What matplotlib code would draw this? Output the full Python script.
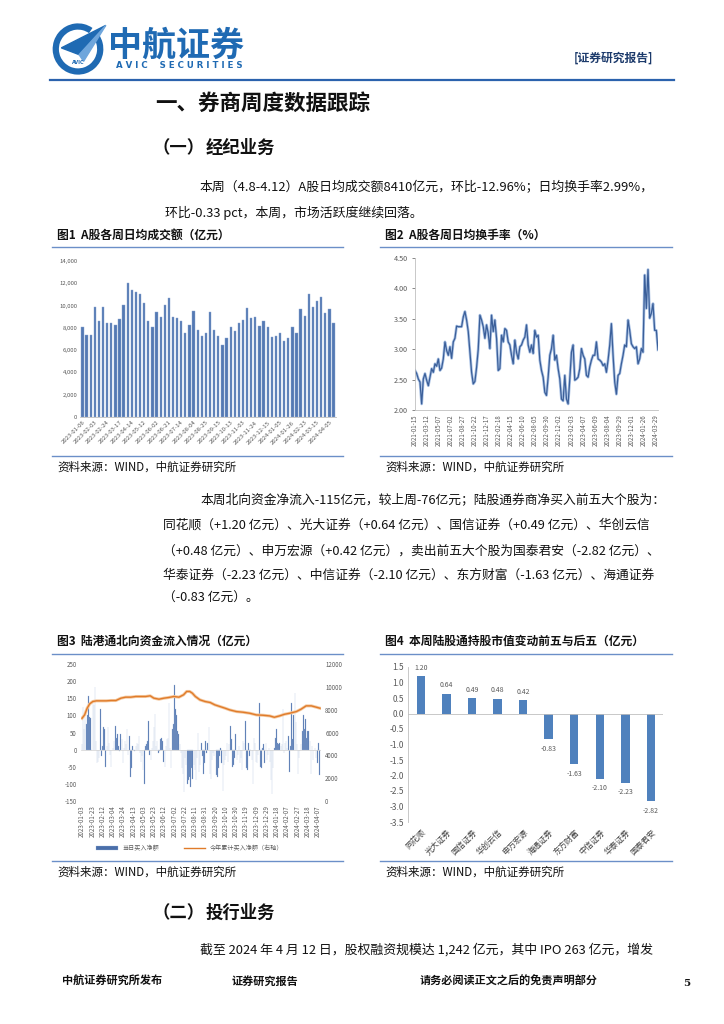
import numpy as np
import matplotlib
matplotlib.use("Agg")
import matplotlib.pyplot as plt
from matplotlib.patches import Arc, Polygon

plt.rcParams['font.family'] = ['Noto Sans CJK SC', 'DejaVu Sans']
plt.rcParams['axes.unicode_minus'] = False

W, H = 724, 1024

# ---------------- data ----------------
# 图1 A股各周日均成交额（亿元）
turnover_amt = [8100, 7400, 7400, 9850, 8600, 9850, 8400, 8400, 8300, 8800,
                10050, 12000, 11400, 11200, 11000, 10200, 8600, 8050, 9400, 9000,
                10050, 10700, 9000, 8850, 8600, 7550, 8250, 9550, 7800, 7250,
                7500, 9400, 7800, 7250, 6500, 7050, 8050, 7700, 8400, 8700,
                9800, 8850, 9000, 8150, 8650, 8050, 7200, 7250, 7500, 6850,
                7050, 8050, 7500, 9700, 9050, 11000, 9900, 10400, 10800, 9350,
                9650, 8410]
amt_labels = ['2023-01-06', '2023-02-03', '2023-02-24', '2023-03-17', '2023-04-14',
              '2023-05-12', '2023-06-02', '2023-06-21', '2023-07-14', '2023-08-04',
              '2023-08-25', '2023-09-15', '2023-10-13', '2023-11-03', '2023-11-24',
              '2023-12-15', '2024-01-05', '2024-01-26', '2024-02-23', '2024-03-15',
              '2024-04-05']

# 图2 A股各周日均换手率（%）
turnover_rate = [2.65, 2.60, 2.51, 2.46, 2.10, 2.51, 2.60, 2.49, 2.40, 2.54,
                 2.68, 2.62, 2.76, 2.72, 2.84, 2.65, 2.69, 2.84, 3.12, 2.98,
                 2.90, 3.04, 2.85, 3.12, 3.18, 3.38, 3.37, 3.37, 3.37, 3.53,
                 3.62, 3.48, 3.29, 2.95, 2.62, 2.43, 2.47, 2.70, 3.00, 3.56,
                 3.48, 3.37, 3.18, 3.40, 3.26, 3.01, 3.56, 3.29, 3.48, 3.18,
                 2.65, 2.68, 3.23, 3.12, 3.34, 3.31, 3.12, 3.07, 2.90, 2.76,
                 3.15, 2.95, 2.84, 3.04, 3.07, 3.15, 3.20, 3.40, 3.07, 2.95,
                 3.07, 2.93, 3.31, 3.20, 3.23, 2.82, 2.65, 2.54, 2.29, 2.24,
                 2.54, 2.90, 3.01, 3.23, 2.82, 2.90, 2.68, 2.51, 2.18, 2.15,
                 2.57, 2.18, 2.10, 2.51, 2.95, 3.07, 2.49, 2.51, 2.54, 2.68,
                 3.01, 2.90, 2.84, 2.57, 2.54, 2.71, 2.82, 2.90, 2.90, 3.12,
                 2.84, 2.82, 2.79, 2.73, 2.76, 2.62, 2.82, 3.07, 3.42, 2.90,
                 2.46, 2.26, 2.57, 2.60, 2.76, 2.90, 3.07, 3.04, 3.48, 3.31,
                 3.09, 3.04, 3.01, 3.04, 2.76, 2.84, 3.01, 2.95, 4.22, 3.67,
                 4.31, 3.51, 3.59, 3.75, 3.31, 3.31, 2.99]
rate_labels = ['2021-01-15', '2021-03-12', '2021-05-07', '2021-07-02', '2021-08-27',
               '2021-10-22', '2021-12-17', '2022-02-18', '2022-04-15', '2022-06-10',
               '2022-08-05', '2022-09-30', '2022-12-02', '2023-02-03', '2023-04-07',
               '2023-06-09', '2023-08-04', '2023-09-29', '2023-12-01', '2024-01-26',
               '2024-03-29']

# 图3 陆港通北向资金流入情况（亿元）
daily_net = [15, 125, 60, 95, 75, 100, 158, 95, 92, 0, 140, 130, 183, 25, -40,
             -35, -25, 120, -20, 10, 65, 60, -50, 10, 65, 20, -15, -50, 0, 5,
             25, 70, 35, 45, 10, -5, 45, 30, -40, 5, 25, 15, 60, -15, 40,
             -80, -55, 10, 0, -5, 10, 20, 15, 40, -10, -35, -20, -60, -100, 10,
             15, 25, 85, -15, -30, 5, 25, 65, 105, 10, 25, -10, -5, 30, 35,
             25, -35, -50, 10, 30, 35, 135, 5, -55, 60, 75, 188, 120, 100, 55,
             45, 15, -10, -55, -70, -125, -25, -45, -100, -90, -80, -110, -55, -85, -45,
             -60, -90, -25, 50, -65, -45, 20, -20, -70, -40, 25, -10, 20, 65, -70,
             -85, -30, -10, -20, 0, -75, -80, -55, -20, 5, -40, -120, -45, -30, -20,
             20, -35, 15, 70, 30, -50, -45, -25, 45, -30, -15, 10, -40, -25, -60,
             25, 20, 85, -55, -60, 20, -20, 0, -30, -100, 35, 20, -35, -40, -15,
             135, -50, -55, 5, 15, -40, 20, -30, -15, 5, -35, -90, -130, -55, 5,
             35, 60, 20, 15, 20, 10, 15, 120, -10, 20, 25, 5, 40, -65, 10,
             135, 30, 100, 165, 80, 15, -70, -25, -5, 15, 55, 100, 60, 90, 35,
             55, 55, 25, -70, 10, -30, -5, 5, -25, -40, 20, -75]
cum_day = [0, 5, 10, 15, 21, 28, 37, 47, 57, 66, 76, 85, 95, 105, 114, 124, 133,
           140, 150, 160, 169, 179, 189, 198, 204, 210, 215, 221, 230, 240, 250,
           259, 269, 279, 288, 301, 314, 327, 340, 353, 366, 375, 385, 395, 405,
           418, 427, 437, 447, 457, 464]
cum_net = [7247, 7540, 8127, 8509, 8714, 8773, 8773, 8773, 8802, 8802, 9008,
           9095, 9095, 9154, 9154, 9154, 9213, 9008, 8919, 9008, 9066, 9154,
           9095, 9301, 9594, 9594, 9447, 9154, 8860, 8714, 8626, 8421, 8274,
           8127, 7980, 7834, 7775, 7687, 7540, 7511, 7452, 7335, 7452, 7599,
           7687, 7834, 8039, 8333, 8333, 8215, 8127]
flow_labels = ['2023-01-03', '2023-01-23', '2023-02-12', '2023-03-04', '2023-03-24',
               '2023-04-13', '2023-05-03', '2023-05-23', '2023-06-12', '2023-07-02',
               '2023-07-22', '2023-08-11', '2023-08-31', '2023-09-20', '2023-10-10',
               '2023-10-30', '2023-11-19', '2023-12-09', '2023-12-29', '2024-01-18',
               '2024-02-07', '2024-02-27', '2024-03-18', '2024-04-07']

# 图4 本周陆股通持股市值变动前五与后五（亿元）
stocks = ['同花顺', '光大证券', '国信证券', '华创云信', '申万宏源',
          '海通证券', '东方财富', '中信证券', '华泰证券', '国泰君安']
stock_chg = [1.20, 0.64, 0.49, 0.48, 0.42, -0.83, -1.63, -2.10, -2.23, -2.82]

# ---------------- page ----------------
fig = plt.figure(figsize=(W / 100, H / 100), dpi=100)
fig.patch.set_facecolor('white')


def fx(x):
    return x / W


def fy(y):
    return 1 - y / H


def text(x, y, s, size, **kw):
    kw.setdefault('va', 'center')
    kw.setdefault('color', '#111111')
    fig.text(fx(x), fy(y), s, fontsize=size, **kw)


def hline(x0, x1, y, color, lw):
    fig.add_artist(plt.Line2D([fx(x0), fx(x1)], [fy(y), fy(y)], color=color, lw=lw))


def axes_px(x0, y0, x1, y1):
    return fig.add_axes([fx(x0), fy(y1), (x1 - x0) / W, (y1 - y0) / H])


# logo
logo = axes_px(48, 22, 108, 76)
logo.set_xlim(-1.35, 1.35)
logo.set_ylim(-1.2, 1.2)
logo.axis('off')
logo.add_patch(Arc((0, 0), 2.0, 2.0, theta1=55, theta2=395, lw=4.5, color='#1f6ab3'))
logo.add_patch(Polygon([[-0.75, 0.05], [1.25, 1.05], [0.05, -0.25]], color='#1f6ab3'))
logo.add_patch(Polygon([[0.05, -0.25], [1.25, 1.05], [0.25, -0.55]], color='#6fa6dc'))
logo.text(0, -0.62, 'AVIC', fontsize=3.5, ha='center', va='center', color='#1f6ab3',
          family='DejaVu Sans', weight='bold')

text(108, 45, '中航证券', 24.5, weight='bold', color='#1f6ab3')
text(116, 66, 'A V I C    S E C U R I T I E S', 6.2, weight='bold', color='#1f6ab3',
     family='DejaVu Sans')
text(574, 58, '[证券研究报告]', 8.5, weight='bold', color='#1c3a6b')
hline(50, 674, 80, '#2b62ad', 1.6)

text(155, 103, '一、券商周度数据跟踪', 15.5, weight='bold')
text(153, 148, '（一）', 12.5, weight='bold')
text(206, 148, '经纪业务', 12.5, weight='bold')

text(200, 188, '本周（4.8-4.12）A股日均成交额8410亿元，环比-12.96%；日均换手率2.99%，', 9.3)
text(165, 213, '环比-0.33 pct，本周，市场活跃度继续回落。', 9.3)

para = ['本周北向资金净流入-115亿元，较上周-76亿元；陆股通券商净买入前五大个股为：',
        '同花顺（+1.20 亿元）、光大证券（+0.64 亿元）、国信证券（+0.49 亿元）、华创云信',
        '（+0.48 亿元）、申万宏源（+0.42 亿元），卖出前五大个股为国泰君安（-2.82 亿元）、',
        '华泰证券（-2.23 亿元）、中信证券（-2.10 亿元）、东方财富（-1.63 亿元）、海通证券',
        '（-0.83 亿元）。']
for i, (line, y) in enumerate(zip(para, [500, 525, 551, 575, 598])):
    text(200 if i == 0 else 163, y, line, 9.2)

# chart frames
for (x0, x1) in [(52, 343), (380, 672)]:
    hline(x0, x1, 247, '#6b8fc8', 1.0)
    hline(x0, x1, 456, '#6b8fc8', 1.0)
    hline(x0, x1, 654, '#6b8fc8', 1.0)
    hline(x0, x1, 861, '#6b8fc8', 1.0)
text(57, 235, '图1  A股各周日均成交额（亿元）', 8.5, weight='bold')
text(385, 235, '图2  A股各周日均换手率（%）', 8.5, weight='bold')
text(57, 641, '图3  陆港通北向资金流入情况（亿元）', 8.5, weight='bold')
text(385, 641, '图4  本周陆股通持股市值变动前五与后五（亿元）', 8.5, weight='bold')
for x in (57, 385):
    text(x, 467, '资料来源：WIND，中航证券研究所', 8.3)
    text(x, 872, '资料来源：WIND，中航证券研究所', 8.3)

text(153, 913, '（二）', 12.5, weight='bold')
text(206, 913, '投行业务', 12.5, weight='bold')
text(200, 950, '截至 2024 年 4 月 12 日，股权融资规模达 1,242 亿元，其中 IPO 263 亿元，增发', 9.3)

text(62, 981, '中航证券研究所发布', 8, weight='bold')
text(232, 981, '证券研究报告', 8, weight='bold')
text(420, 981, '请务必阅读正文之后的免责声明部分', 8, weight='bold')
text(683, 983, '5', 7.5, weight='bold', family='DejaVu Serif')

grey = '#595959'

# ---------------- chart 1 ----------------
ax1 = axes_px(80, 261, 336, 417)
n1 = len(turnover_amt)
ax1.bar(np.arange(n1), turnover_amt, width=0.55, color='#5479b3', edgecolor='#8aa6d2', lw=0.3)
ax1.set_xlim(-0.6, n1 - 0.4)
ax1.set_ylim(0, 14000)
ax1.set_yticks(np.arange(0, 14001, 2000))
ax1.set_yticklabels([f'{v:,}' for v in range(0, 14001, 2000)])
ax1.set_xticks(np.arange(0, n1, 3)[:len(amt_labels)])
ax1.set_xticklabels(amt_labels, rotation=45, ha='right', rotation_mode='anchor')
ax1.tick_params(axis='both', length=0, labelsize=4.3, colors=grey, pad=2)
for s in ('top', 'right', 'left'):
    ax1.spines[s].set_visible(False)
ax1.spines['bottom'].set_color('#bfbfbf')
ax1.spines['bottom'].set_linewidth(0.6)

# ---------------- chart 2 ----------------
ax2 = axes_px(415, 258, 658, 410)
n2 = len(turnover_rate)
ax2.plot(np.arange(n2), turnover_rate, color='#a9c1e4', lw=2.0)
ax2.plot(np.arange(n2), turnover_rate, color='#3b5f99', lw=0.9)
ax2.set_xlim(0, n2 - 1)
ax2.set_ylim(2.0, 4.5)
ax2.set_yticks(np.arange(2.0, 4.51, 0.5))
ax2.set_yticklabels([f'{v:.2f}' for v in np.arange(2.0, 4.51, 0.5)])
ax2.set_xticks(np.linspace(0, (n2 - 1) * 720 / 728, len(rate_labels)))
ax2.set_xticklabels(rate_labels, rotation=90)
ax2.tick_params(axis='y', length=2, width=0.5, labelsize=5.2, colors=grey, pad=3)
ax2.tick_params(axis='x', length=0, labelsize=4.4, colors=grey, pad=3)
for s in ('top', 'right'):
    ax2.spines[s].set_visible(False)
for s in ('left', 'bottom'):
    ax2.spines[s].set_color('#bfbfbf')
    ax2.spines[s].set_linewidth(0.6)

# ---------------- chart 3 ----------------
ax3 = axes_px(81, 664, 321, 801)
n3 = len(daily_net)
bar_day = np.linspace(0, 463, n3)
ax3.bar(bar_day, daily_net, width=0.9, color='#4a6ea9', edgecolor='#9fb6db', lw=0.2,
        label='当日买入净额')
ax3.axhline(0, color='#d0d0d0', lw=0.5)
ax3.set_ylim(-150, 250)
ax3.set_yticks(np.arange(-150, 251, 50))
ax3.set_xlim(-2, 466)
ax3.set_xticks(np.linspace(0, 460, len(flow_labels)))
ax3.set_xticklabels(flow_labels, rotation=90)
ax3r = ax3.twinx()
ax3r.plot(cum_day, cum_net, color='#f4c9a0', lw=2.2)
ax3r.plot(cum_day, cum_net, color='#e07b2a', lw=1.0, label='今年累计买入净额（右轴）')
ax3r.set_ylim(0, 12000)
ax3r.set_yticks(np.arange(0, 12001, 2000))
for a in (ax3, ax3r):
    a.tick_params(axis='both', length=0, labelsize=4.4, colors=grey, pad=3)
    for s in a.spines.values():
        s.set_visible(False)
h1, l1 = ax3.get_legend_handles_labels()
h2, l2 = ax3r.get_legend_handles_labels()
fig.legend(h1 + h2, l1 + l2, loc='center', bbox_to_anchor=(fx(190), fy(848)), ncol=2,
           frameon=False, fontsize=4.4, handlelength=3.5, columnspacing=4, labelcolor=grey)

# ---------------- chart 4 ----------------
ax4 = axes_px(408, 667, 663, 822)
x4 = np.arange(len(stocks))
ax4.bar(x4, stock_chg, width=0.33, color='#4f81bd')
ax4.axhline(0, color='#bfbfbf', lw=0.6)
for xi, v in zip(x4, stock_chg):
    ax4.annotate(f'{v:.2f}', (xi, v), xytext=(0, 6 if v > 0 else -7), textcoords='offset points',
                 ha='center', va='center', fontsize=5, color=grey)
ax4.set_xlim(-0.5, 9.47)
ax4.set_ylim(-3.5, 1.5)
ax4.set_yticks(np.arange(-3.5, 1.51, 0.5))
ax4.set_yticklabels([f'{v:.1f}' for v in np.arange(-3.5, 1.51, 0.5)])
ax4.set_xticks(x4)
ax4.set_xticklabels(stocks, rotation=45, ha='right', rotation_mode='anchor')
ax4.tick_params(axis='y', length=0, labelsize=6, colors=grey, pad=3)
ax4.tick_params(axis='x', length=0, labelsize=5.8, colors='#404040', pad=4)
for s in ('top', 'right', 'bottom'):
    ax4.spines[s].set_visible(False)
ax4.spines['left'].set_color('#bfbfbf')
ax4.spines['left'].set_linewidth(0.6)

fig.savefig('out.png', dpi=100)
